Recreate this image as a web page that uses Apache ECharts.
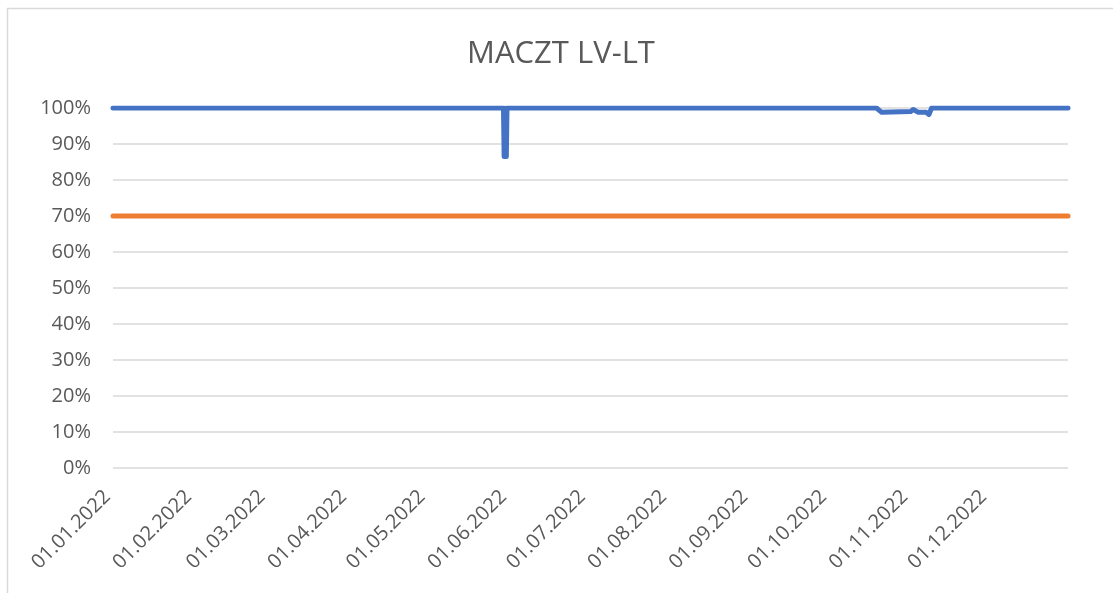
<!DOCTYPE html>
<html>
<head>
<meta charset="utf-8">
<script src="https://cdn.jsdelivr.net/npm/echarts@6/dist/echarts.min.js"></script>
<style>html,body{margin:0;padding:0;background:#fff}#c{width:1113px;height:593px}</style>
</head>
<body>
<div id="c"></div>
<script>
const title = 'MACZT LV-LT';
const blueDates = ['2022-01-01','2022-05-29 20:00','2022-05-30 02:00','2022-05-30 22:00','2022-05-31 04:00','2022-10-19','2022-10-21','2022-11-01','2022-11-02','2022-11-04','2022-11-07','2022-11-08','2022-11-09','2022-12-31'];
const blueValues = [1.0, 1.0, 0.865, 0.865, 1.0, 1.0, 0.988, 0.99, 0.996, 0.988, 0.988, 0.982, 1.0, 1.0];
const orangeDates = ['2022-01-01','2022-12-31'];
const orangeValues = [0.7, 0.7];
const tickDates = ['2022-01-01','2022-02-01','2022-03-01','2022-04-01','2022-05-01','2022-06-01','2022-07-01','2022-08-01','2022-09-01','2022-10-01','2022-11-01','2022-12-01'];

function ts(s){
  const [d,t] = s.split(' ');
  const [Y,M,D] = d.split('-').map(Number);
  let h = 0, mi = 0;
  if (t) { [h,mi] = t.split(':').map(Number); }
  return Date.UTC(Y, M-1, D, h, mi);
}
function fmt(v){
  const d = new Date(v);
  const p = n => String(n).padStart(2,'0');
  return p(d.getUTCDate()) + '.' + p(d.getUTCMonth()+1) + '.' + d.getUTCFullYear();
}
const chart = echarts.init(document.getElementById('c'), null, {renderer:'canvas'});
const font = '"Open Sans", "Liberation Sans", sans-serif';
chart.setOption({
  animation: false,
  backgroundColor: '#fff',
  graphic: [{type:'rect', shape:{x:7.5,y:8.5,width:1200,height:700}, style:{fill:'none', stroke:'#d9d9d9', lineWidth:1.5}, silent:true}],
  title: {text: title, left: 556, textAlign: 'center', top: 34, textStyle:{fontFamily: font, fontSize: 31, fontWeight: 'normal', color:'#595959'}},
  grid: {left:113, right:45, top:108, bottom:125, containLabel:false},
  xAxis: {
    type:'value', min: ts('2022-01-01'), max: ts('2022-12-31'),
    axisLine:{show:false}, axisTick:{show:false}, splitLine:{show:false},
    axisLabel:{customValues: tickDates.map(ts), formatter: v => fmt(v), rotate:45, margin:20, padding:[0,8,0,0],
      fontFamily: font, fontSize:20, color:'#595959'}
  },
  yAxis: {
    type:'value', min:0, max:1, interval:0.1,
    axisLine:{show:false}, axisTick:{show:false},
    splitLine:{lineStyle:{color:'#d9d9d9', width:1.5}},
    axisLabel:{formatter: v => Math.round(v*100)+'%', margin:22, fontFamily: font, fontSize:20, color:'#595959'}
  },
  series: [
    {type:'line', data: orangeDates.map((d,i)=>[ts(d), orangeValues[i]]), showSymbol:false,
      lineStyle:{color:'#ED7D31', width:5, cap:'round', join:'round'}},
    {type:'line', data: blueDates.map((d,i)=>[ts(d), blueValues[i]]), showSymbol:false,
      lineStyle:{color:'#4472C4', width:5, cap:'round', join:'round'}}
  ]
});
</script>
</body>
</html>
